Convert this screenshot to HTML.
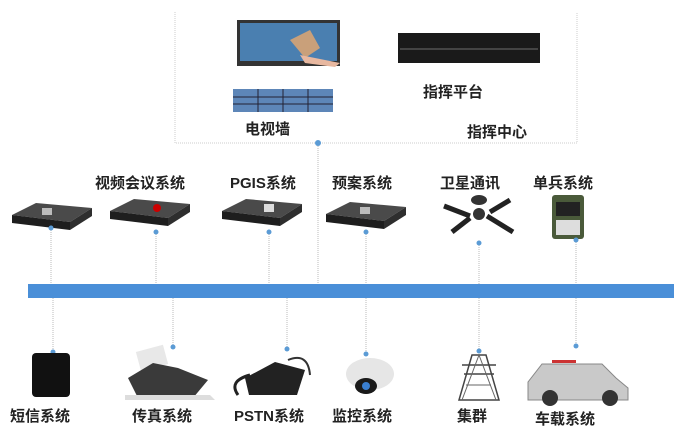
<!DOCTYPE html>
<html><head><meta charset="utf-8"><style>
html,body{margin:0;padding:0;background:#fff;width:674px;height:429px;overflow:hidden}
text{font-family:"Liberation Sans","Noto Sans CJK SC",sans-serif;font-size:15px;fill:#222;font-weight:bold}
</style></head><body>
<svg width="674" height="429" viewBox="0 0 674 429" xmlns="http://www.w3.org/2000/svg">
<defs>
<g id="srv">
<path d="M0 12 L24 0 L80 5 L58 19 Z" fill="#4a4a4a"/>
<path d="M0 12 L58 19 L58 27 L0 20 Z" fill="#1e1e1e"/>
<path d="M58 19 L80 5 L80 13 L58 27 Z" fill="#2e2e2e"/>
</g>
</defs>
<!-- command center box -->
<path d="M175 12 V143 H577 V12" fill="none" stroke="#ccc" stroke-width="1" stroke-dasharray="1 1"/>
<!-- TV -->
<rect x="237" y="20" width="103" height="46" fill="#333"/>
<rect x="240" y="23" width="97" height="38" fill="#4a7fb0"/>
<path d="M290 40 l20 -10 l10 18 l-15 10z" fill="#c9a07a"/>
<path d="M300 55 l40 8 l-5 4 l-30 -4z" fill="#e8b8a0"/>
<!-- wall -->
<rect x="233" y="89" width="100" height="23" fill="#5d86b8"/>
<g stroke="#223" stroke-width="1"><line x1="258" y1="89" x2="258" y2="112"/><line x1="283" y1="89" x2="283" y2="112"/><line x1="308" y1="89" x2="308" y2="112"/><line x1="233" y1="97" x2="333" y2="97"/><line x1="233" y1="104" x2="333" y2="104"/></g>
<text x="245" y="134">电视墙</text>
<!-- rack -->
<rect x="398" y="33" width="142" height="30" fill="#1a1a1a"/>
<rect x="400" y="48" width="138" height="2" fill="#444"/>
<text x="423" y="97">指挥平台</text>
<text x="467" y="137">指挥中心</text>
<circle cx="318" cy="143" r="3" fill="#5b9bd5"/>
<line x1="318" y1="146" x2="318" y2="285" stroke="#bbb" stroke-dasharray="1 1"/>
<!-- top labels -->
<text x="95" y="188">视频会议系统</text>
<text x="230" y="188">PGIS系统</text>
<text x="332" y="188">预案系统</text>
<text x="440" y="188">卫星通讯</text>
<text x="533" y="188">单兵系统</text>
<!-- top devices -->
<use href="#srv" x="12" y="203"/>
<use href="#srv" x="110" y="199" transform="translate(0,0)"/>
<use href="#srv" x="222" y="199"/>
<use href="#srv" x="326" y="202"/>
<rect x="42" y="208" width="10" height="7" fill="#bbb"/>
<circle cx="157" cy="208" r="4" fill="#c00"/>
<rect x="264" y="204" width="10" height="8" fill="#ddd"/>
<rect x="360" y="207" width="10" height="7" fill="#bbb"/>
<!-- satellite -->
<g stroke="#222" stroke-width="5"><line x1="444" y1="206" x2="470" y2="216"/><line x1="487" y1="216" x2="513" y2="232"/><line x1="452" y1="232" x2="470" y2="218"/><line x1="490" y1="212" x2="510" y2="200"/></g>
<ellipse cx="479" cy="200" rx="8" ry="5" fill="#333"/><circle cx="479" cy="214" r="6" fill="#333"/>
<!-- handheld -->
<rect x="552" y="195" width="32" height="44" rx="3" fill="#4a5a3a"/>
<rect x="556" y="202" width="24" height="14" fill="#222"/>
<rect x="556" y="220" width="24" height="15" fill="#ddd"/>
<!-- top drops -->
<g stroke="#bbb" stroke-dasharray="1 1">
<line x1="51" y1="228" x2="51" y2="285"/><line x1="156" y1="232" x2="156" y2="285"/><line x1="269" y1="232" x2="269" y2="285"/><line x1="366" y1="232" x2="366" y2="285"/><line x1="479" y1="243" x2="479" y2="285"/><line x1="576" y1="240" x2="576" y2="285"/>
</g>
<g fill="#5b9bd5"><circle cx="51" cy="228" r="2.5"/><circle cx="156" cy="232" r="2.5"/><circle cx="269" cy="232" r="2.5"/><circle cx="366" cy="232" r="2.5"/><circle cx="479" cy="243" r="2.5"/><circle cx="576" cy="240" r="2.5"/></g>
<!-- bus -->
<rect x="28" y="284" width="646" height="14" fill="#4a8fd8"/>
<!-- bottom drops -->
<g stroke="#bbb" stroke-dasharray="1 1">
<line x1="53" y1="298" x2="53" y2="352"/><line x1="173" y1="298" x2="173" y2="346"/><line x1="287" y1="298" x2="287" y2="349"/><line x1="366" y1="298" x2="366" y2="354"/><line x1="479" y1="298" x2="479" y2="351"/><line x1="576" y1="298" x2="576" y2="346"/>
</g>
<g fill="#5b9bd5"><circle cx="53" cy="352" r="2.5"/><circle cx="173" cy="347" r="2.5"/><circle cx="287" cy="349" r="2.5"/><circle cx="366" cy="354" r="2.5"/><circle cx="479" cy="351" r="2.5"/><circle cx="576" cy="346" r="2.5"/></g>
<!-- bottom devices -->
<rect x="32" y="353" width="38" height="44" rx="4" fill="#111"/>
<rect x="138" y="348" width="28" height="20" fill="#e8e8e8" transform="rotate(-15 152 358)"/>
<path d="M128 378 l25 -15 l25 5 l30 12 l-15 18 h-55z" fill="#3a3a3a"/><path d="M125 395 h85 l5 5 h-90z" fill="#ddd"/>
<path d="M245 378 l30 -16 l30 8 l-8 25 h-48z" fill="#222"/><path d="M238 395 q-10 -14 12 -20" stroke="#222" stroke-width="3" fill="none"/>
<path d="M288 360 q20 -8 22 15" stroke="#333" stroke-width="2" fill="none"/>
<ellipse cx="370" cy="374" rx="24" ry="16" fill="#e6e6e6"/><ellipse cx="366" cy="386" rx="11" ry="8" fill="#1a1a1a"/><circle cx="366" cy="386" r="4" fill="#3a7fd0"/>
<path d="M472 355 h14 l13 45 h-40z" fill="none" stroke="#444" stroke-width="1.5"/><line x1="462" y1="365" x2="496" y2="365" stroke="#444" stroke-width="1.5"/><line x1="464" y1="374" x2="494" y2="374" stroke="#444" stroke-width="1.5"/><path d="M462 400 l17 -45 l17 45 M466 385 l25 0" stroke="#666" fill="none"/>
<path d="M528 382 l14 -18 h60 l14 14 l12 10 v12 h-100z" fill="#c9c9c9" stroke="#888"/><circle cx="550" cy="398" r="8" fill="#333"/><circle cx="610" cy="398" r="8" fill="#333"/><rect x="552" y="360" width="24" height="3" fill="#c33"/>
<!-- bottom labels -->
<text x="10" y="421">短信系统</text>
<text x="132" y="421">传真系统</text>
<text x="234" y="421">PSTN系统</text>
<text x="332" y="421">监控系统</text>
<text x="457" y="421">集群</text>
<text x="535" y="424">车载系统</text>
</svg>
</body></html>
